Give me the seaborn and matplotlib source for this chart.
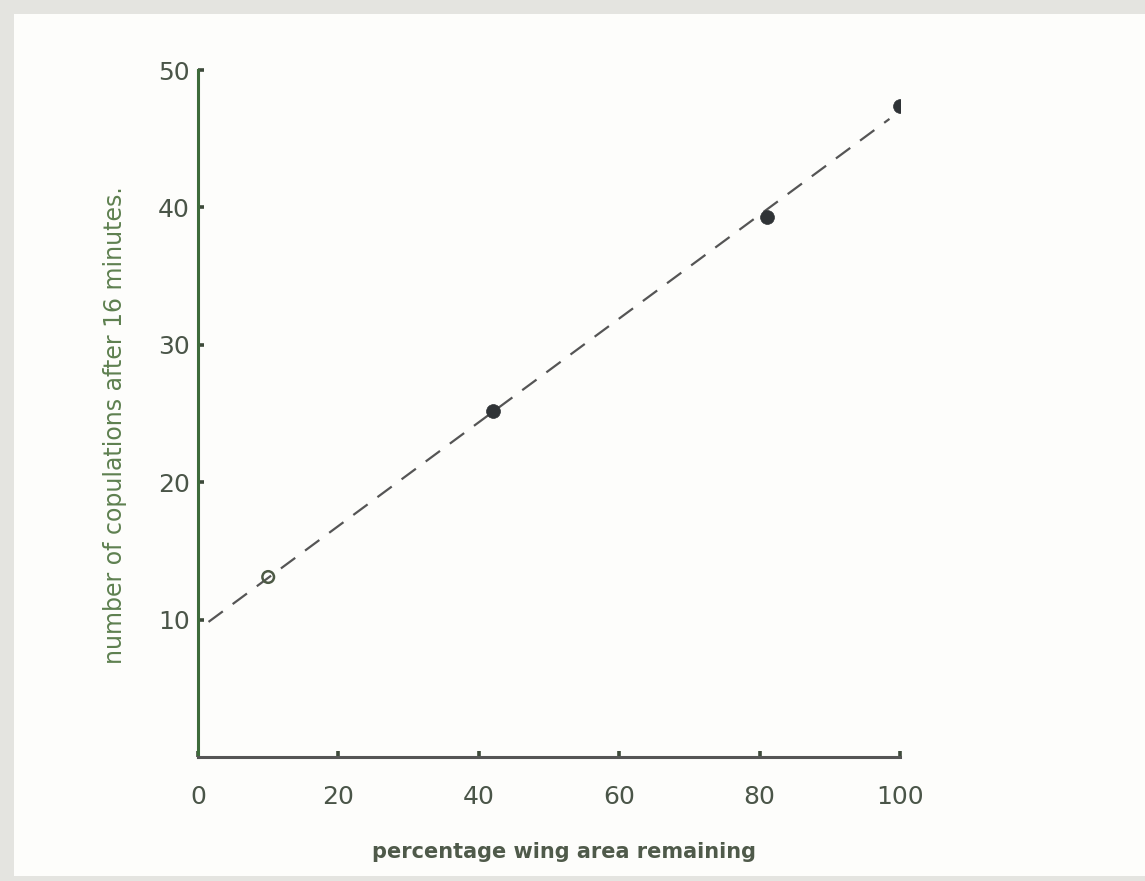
import numpy as np
import pandas as pd
import matplotlib
matplotlib.use("Agg")
import matplotlib.pyplot as plt
from matplotlib.patches import Rectangle
import seaborn as sns

# Copulations observed after 16 minutes vs. remaining wing area
wing_area = [10, 42, 81, 100]
copulations = [13.1, 25.2, 39.3, 47.4]
marker_fill = ["open", "filled", "filled", "filled"]

x_ticks = [0, 20, 40, 60, 80, 100]
y_ticks = [10, 20, 30, 40, 50]

df = pd.DataFrame({"area": wing_area, "cops": copulations, "kind": marker_fill})

sns.set_theme(style="white")
plt.rcParams["font.family"] = ["DejaVu Sans"]

fig = plt.figure(figsize=(11.45, 8.81), dpi=100)
fig.patch.set_facecolor("#e4e4e0")
# paper sheet
fig.patches.append(Rectangle((14 / 1145, 5 / 881), 1 - 14 / 1145, 1 - 19 / 881,
                             transform=fig.transFigure, facecolor="#fdfdfb",
                             edgecolor="none", zorder=-5))

ax = fig.add_axes([198 / 1145, 1 - 757 / 881, (900 - 198) / 1145, (757 - 70) / 881])
ax.set_facecolor("none")
ax.set_zorder(5)

# least-squares line through the points
slope, intercept = np.polyfit(wing_area, copulations, 1)
fit_x = np.array([1.5, 98.5])
fit_df = pd.DataFrame({"area": fit_x, "cops": intercept + slope * fit_x})
sns.lineplot(data=fit_df, x="area", y="cops", ax=ax, color="#555555",
             linewidth=1.6, zorder=2)
ax.lines[-1].set_dashes([8, 5.5])

filled = df[df["kind"] == "filled"]
opened = df[df["kind"] == "open"]
sns.scatterplot(data=filled, x="area", y="cops", ax=ax, s=100,
                color="#2f3336", edgecolor="#2f3336", linewidth=0.5, zorder=3)
sns.scatterplot(data=opened, x="area", y="cops", ax=ax, s=70,
                facecolor="none", edgecolor="#4d5a45", linewidth=1.8, zorder=3)

ax.set_xlim(0, 100)
ax.set_ylim(0, 50)
ax.set_xticks(x_ticks)
ax.set_yticks(y_ticks)
ax.set_xticklabels([str(t) for t in x_ticks])
ax.set_yticklabels([str(t) for t in y_ticks])

for s in ["top", "right"]:
    ax.spines[s].set_visible(False)
ax.spines["left"].set_color("#3d6b3a")
ax.spines["left"].set_linewidth(2.2)
ax.spines["bottom"].set_color("#555555")
ax.spines["bottom"].set_linewidth(2.2)

ax.tick_params(axis="both", direction="in", length=4, width=2.6,
               labelsize=18, colors="#3d4a3a", bottom=True, left=True)
ax.tick_params(axis="x", pad=20)
ax.tick_params(axis="y", pad=6)
for lbl in ax.get_xticklabels() + ax.get_yticklabels():
    lbl.set_color("#4a5548")

ax.set_xlabel("")
ax.set_ylabel("")
fig.text(564 / 1145, 1 - 852 / 881, "percentage wing area remaining",
         ha="center", va="center", fontsize=15, color="#4f5a4a", fontweight="bold")
fig.text(115 / 1145, 1 - 425 / 881, "number of copulations after 16 minutes.",
         ha="center", va="center", rotation=90, fontsize=17, color="#5e8050")

fig.savefig("out.png", dpi=100, facecolor=fig.get_facecolor())
